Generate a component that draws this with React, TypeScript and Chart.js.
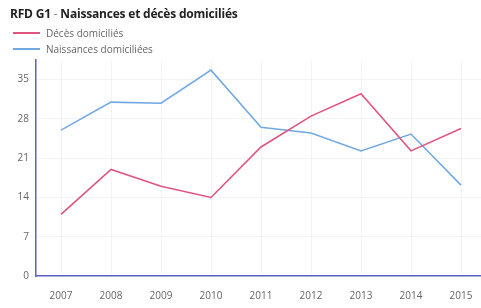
import React, { useEffect, useRef } from "react";
import { Chart, registerables } from "chart.js";

Chart.register(...registerables);

const years = ["2007", "2008", "2009", "2010", "2011", "2012", "2013", "2014", "2015"];
const deces = [11, 19, 16, 14, 23, 28.5, 32.5, 22.3, 26.3];
const naissances = [26, 31, 30.8, 36.7, 26.5, 25.5, 22.3, 25.3, 16.2];
const yTicks = [0, 7, 14, 21, 28, 35];

const RED = "#e0557e";
const BLUE = "#72a9e3";
const FONT = "'Open Sans', 'Noto Sans', sans-serif";

export default function App() {
  const ref = useRef<HTMLCanvasElement>(null);
  useEffect(() => {
    if (!ref.current) return;
    const chart = new Chart(ref.current, {
      type: "line",
      data: {
        labels: years,
        datasets: [
          { label: "Décès domiciliés", data: deces, borderColor: RED, borderWidth: 1.6, pointRadius: 0, tension: 0, fill: false },
          { label: "Naissances domiciliées", data: naissances, borderColor: BLUE, borderWidth: 1.6, pointRadius: 0, tension: 0, fill: false },
        ],
      },
      options: {
        animation: false,
        responsive: false,
        maintainAspectRatio: false,
        layout: { padding: { top: 60, right: 4, left: 0, bottom: 0 } },
        plugins: { legend: { display: false }, title: { display: false }, tooltip: { enabled: false } },
        scales: {
          x: {
            offset: true,
            grid: { display: true, color: "rgba(0,0,0,0.045)", drawTicks: false, offset: false } as any,
            border: { display: true, color: "#5b63c4", width: 1.5 },
            ticks: { color: "#666", font: { family: FONT, size: 10 }, padding: 14, maxRotation: 0 },
            afterFit: (s: any) => { s.height = 32; },
          },
          y: {
            min: 0,
            max: 38.5,
            afterBuildTicks: (s: any) => { s.ticks = yTicks.map((v) => ({ value: v })); },
            grid: { color: "rgba(0,0,0,0.045)", drawTicks: false },
            border: { display: true, color: "#5b63c4", width: 1.5 },
            ticks: { color: "#666", font: { family: FONT, size: 10 }, padding: 7 },
            afterFit: (s: any) => { s.width = 36; },
          },
        },
      },
    });
    return () => chart.destroy();
  }, []);

  const legendItem = (color: string, text: string, top: number) => (
    <div style={{ position: "absolute", left: 13, top, display: "flex", alignItems: "center" }}>
      <div style={{ width: 27, height: 1.5, background: color, marginRight: 6 }} />
      <span style={{ fontFamily: FONT, fontSize: 10, color: "#666" }}>{text}</span>
    </div>
  );

  return (
    <div style={{ position: "fixed", left: 0, top: 0, width: 481, height: 308, background: "#fff", overflow: "hidden" }}>
      <canvas ref={ref} width={490} height={308} style={{ position: "absolute", left: 0, top: 0, width: 490, height: 308 }} />
      <div style={{ position: "absolute", left: 10, top: 5, fontFamily: FONT, fontSize: 12, fontWeight: 700, color: "#222", whiteSpace: "nowrap", letterSpacing: -0.2 }}>
        RFD G1 <span style={{ color: "#777", fontWeight: 400 }}>-</span> Naissances et décès domiciliés
      </div>
      {legendItem(RED, "Décès domiciliés", 26)}
      {legendItem(BLUE, "Naissances domiciliées", 42)}
    </div>
  );
}
